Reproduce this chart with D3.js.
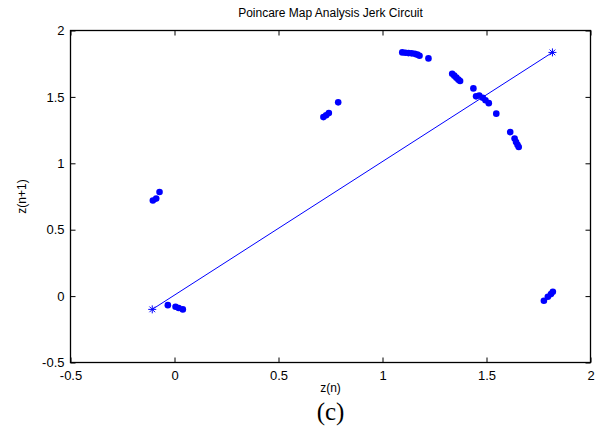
<!DOCTYPE html>
<html>
<head>
<meta charset="utf-8">
<script src="https://cdn.jsdelivr.net/npm/d3@7"></script>
<style>
  body { margin: 0; background: #fff; }
  text { font-family: "Liberation Sans", Arial, sans-serif; }
</style>
</head>
<body>
<svg width="600" height="428"></svg>
<script>
// Poincare map points z(n) vs z(n+1)
const zn = [1.095, 1.11, 1.125, 1.14, 1.155, 1.168, 1.178, 1.221,
  1.335, 1.345, 1.355, 1.365, 1.373,
  1.437, 1.45, 1.465, 1.482, 1.495, 1.511, 1.547,
  1.614, 1.635, 1.642, 1.649, 1.655,
  1.776, 1.795, 1.81, 1.819,
  -0.032, 0.005, 0.02, 0.04,
  -0.104, -0.088, -0.072,
  0.716, 0.729, 0.742, 0.787];
const zn1 = [1.835, 1.833, 1.83, 1.828, 1.824, 1.818, 1.81, 1.79,
  1.674, 1.66, 1.645, 1.63, 1.62,
  1.564, 1.504, 1.51, 1.494, 1.475, 1.453, 1.374,
  1.235, 1.186, 1.16, 1.14, 1.123,
  -0.035, -0.005, 0.015, 0.032,
  -0.068, -0.08, -0.09, -0.1,
  0.72, 0.734, 0.784,
  1.348, 1.362, 1.378, 1.459];

// line between the two marked points
const lineX = [-0.107, 1.817];
const lineY = [-0.1, 1.835];

const xTicks = [-0.5, 0, 0.5, 1, 1.5, 2];
const yTicks = [-0.5, 0, 0.5, 1, 1.5, 2];

const svg = d3.select("svg");
const mLeft = 70.5, mRight = 590.5, mTop = 30.5, mBottom = 362.5;

const x = d3.scaleLinear().domain([-0.5, 2]).range([mLeft, mRight]);
const y = d3.scaleLinear().domain([-0.5, 2]).range([mBottom, mTop]);

// box
svg.append("rect")
    .attr("x", mLeft).attr("y", mTop)
    .attr("width", mRight - mLeft).attr("height", mBottom - mTop)
    .attr("fill", "none").attr("stroke", "#000").attr("stroke-width", 1.3);

// axes, ticks inward
const tickLen = 5;
const fmt = d => String(d);
const bottomAxis = svg.append("g").attr("transform", `translate(0,${mBottom})`)
    .call(d3.axisBottom(x).tickValues(xTicks).tickSize(-tickLen).tickPadding(8)
        .tickFormat(fmt));
const topAxis = svg.append("g").attr("transform", `translate(0,${mTop})`)
    .call(d3.axisTop(x).tickValues(xTicks).tickSize(-tickLen).tickFormat(""));
const leftAxis = svg.append("g").attr("transform", `translate(${mLeft},0)`)
    .call(d3.axisLeft(y).tickValues(yTicks).tickSize(-tickLen).tickPadding(6)
        .tickFormat(fmt));
const rightAxis = svg.append("g").attr("transform", `translate(${mRight},0)`)
    .call(d3.axisRight(y).tickValues(yTicks).tickSize(-tickLen).tickFormat(""));

[bottomAxis, topAxis, leftAxis, rightAxis].forEach(g => {
    g.select(".domain").remove();
    g.selectAll("text").attr("font-size", 13).attr("fill", "#000")
        .attr("font-family", "Liberation Sans, Arial, sans-serif");
});

// line
svg.append("line")
    .attr("x1", x(lineX[0])).attr("y1", y(lineY[0]))
    .attr("x2", x(lineX[1])).attr("y2", y(lineY[1]))
    .attr("stroke", "#0000ff").attr("stroke-width", 1);

// star markers at line ends
const star = svg.append("g");
lineX.forEach((v, i) => {
    const cx = x(v), cy = y(lineY[i]), r = 4;
    [0, 45, 90, 135].forEach(a => {
        const rad = a * Math.PI / 180;
        star.append("line")
            .attr("x1", cx - r * Math.cos(rad)).attr("y1", cy - r * Math.sin(rad))
            .attr("x2", cx + r * Math.cos(rad)).attr("y2", cy + r * Math.sin(rad))
            .attr("stroke", "#0000ff").attr("stroke-width", 1);
    });
});

// dots
svg.append("g").selectAll("circle")
    .data(zn.map((v, i) => [v, zn1[i]]))
    .enter().append("circle")
    .attr("cx", d => x(d[0]))
    .attr("cy", d => y(d[1]))
    .attr("r", 3.3)
    .attr("fill", "#0000ff");

// title and labels
svg.append("text")
    .attr("x", (mLeft + mRight) / 2).attr("y", 17)
    .attr("text-anchor", "middle").attr("font-size", 12)
    .text("Poincare Map Analysis Jerk Circuit");

svg.append("text")
    .attr("x", (mLeft + mRight) / 2).attr("y", 392)
    .attr("text-anchor", "middle").attr("font-size", 12)
    .text("z(n)");

svg.append("text")
    .attr("transform", `translate(26,${(mTop + mBottom) / 2}) rotate(-90)`)
    .attr("text-anchor", "middle").attr("font-size", 12)
    .text("z(n+1)");

svg.append("text")
    .attr("x", (mLeft + mRight) / 2).attr("y", 420)
    .attr("text-anchor", "middle").attr("font-size", 25)
    .style("font-family", "Liberation Serif, Times New Roman, serif")
    .text("(c)");
</script>
</body>
</html>
